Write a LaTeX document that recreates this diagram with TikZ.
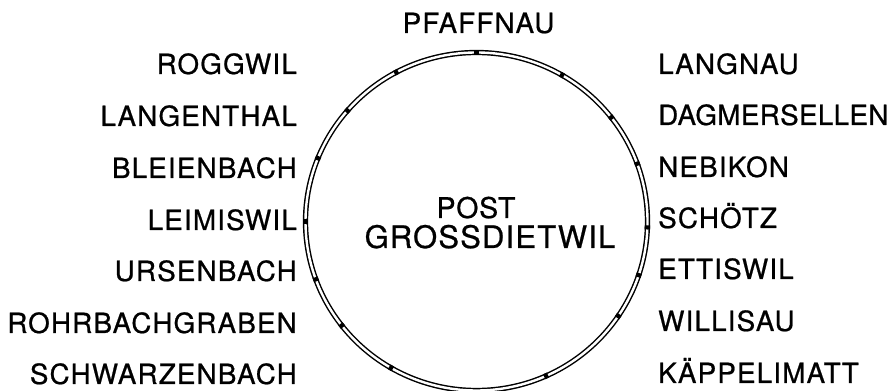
\documentclass[tikz,border=0pt]{standalone}
\usepackage{fontspec}
\setmainfont{TeX Gyre Heros}
\newfontfamily\labfont[LetterSpace=4.2,FakeBold=0.7]{TeX Gyre Heros}
\newfontfamily\labtight[LetterSpace=1.2,FakeBold=0.7]{TeX Gyre Heros}
\newfontfamily\cenfont[LetterSpace=2.5,FakeBold=0.7]{TeX Gyre Heros}
\newfontfamily\cenwide[LetterSpace=3.8,FakeBold=0.7]{TeX Gyre Heros}
\begin{document}
\begin{tikzpicture}[x=1pt,y=1pt,
  lab/.style={font=\labfont\fontsize{27.8}{30}\selectfont, inner sep=0pt},
  labt/.style={font=\labtight\fontsize{27.8}{30}\selectfont, inner sep=0pt},
  cen/.style={font=\cenfont\fontsize{28.5}{30}\selectfont, inner sep=0pt},
  cenw/.style={font=\cenwide\fontsize{31}{33}\selectfont, inner sep=0pt},
  ring/.style={draw=black, double=white, line width=1.45pt, double distance=2.4pt},
  tick/.style={fill=black, inner sep=0pt, minimum width=5.4pt, minimum height=4.2pt, draw=none}]
\useasboundingbox (0,0) rectangle (892,391);
\coordinate (c) at (476.5,169.5);
\draw[ring] (c) ellipse [x radius=171, y radius=169];
\foreach \a [count=\i] in {90,118,139,158,180,200,218,240,60,38,20,-2,-18.5,-34,-66}
  \node[tick, rotate=\a] (m\i) at ([shift={(\a:171 and 169)}]c) {};
% top
\node[lab, anchor=base] (pf) at (478.5,358) {PFAFFNAU};
% centre
\node[cen, anchor=base] (post) at (476,173) {POST};
\node[cenw, anchor=base] (gd) at (490,143) {GROSSDIETWIL};
% left
\node[lab, anchor=base east] (l1) at (297,317) {ROGGWIL};
\node[lab, anchor=base east] (l2) at (297,265) {LANGENTHAL};
\node[lab, anchor=base east] (l3) at (297,213) {BLEIENBACH};
\node[lab, anchor=base east] (l4) at (297,161) {LEIMISWIL};
\node[lab, anchor=base east] (l5) at (297,110) {URSENBACH};
\node[lab, anchor=base east] (l6) at (297,58) {ROHRBACHGRABEN};
\node[lab, anchor=base east] (l7) at (297,7) {SCHWARZENBACH};
% right
\node[lab, anchor=base west] (r1) at (658,317) {LANGNAU};
\node[labt, anchor=base west] (r2) at (658,266) {DAGMERSELLEN};
\node[lab, anchor=base west] (r3) at (658,214) {NEBIKON};
\node[lab, anchor=base west] (r4) at (658,163) {SCHÖTZ};
\node[lab, anchor=base west] (r5) at (658,112) {ETTISWIL};
\node[lab, anchor=base west] (r6) at (658,60) {WILLISAU};
\node[lab, anchor=base west] (r7) at (658,8) {KÄPPELIMATT};
\end{tikzpicture}
\end{document}
